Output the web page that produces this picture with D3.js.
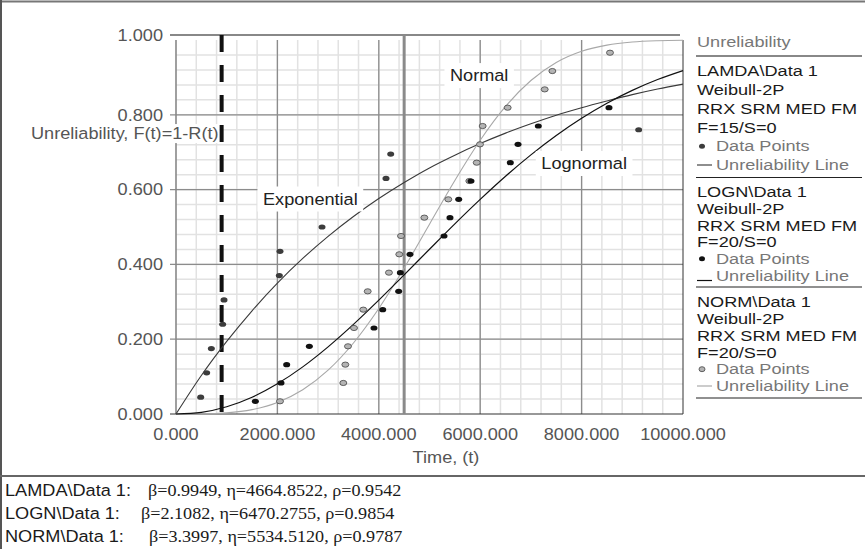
<!DOCTYPE html>
<html>
<head>
<meta charset="utf-8">
<script src="https://cdn.jsdelivr.net/npm/d3@7"></script>
<style>
  body { margin: 0; background: #fff; }
  text { font-family: "Liberation Sans", Arial, sans-serif; }
</style>
</head>
<body>
<script>
// Unreliability vs time, three Weibull-2P fits
const seriesNames = ["LAMDA\\Data 1", "LOGN\\Data 1", "NORM\\Data 1"];
const failCounts = ["F=15/S=0", "F=20/S=0", "F=20/S=0"];
const betas = [0.9949, 2.1082, 3.3997];
const etas = [4664.8522, 6470.2755, 5534.5120];
const rhos = [0.9542, 0.9854, 0.9787];

// fitted unreliability lines
const lineTimes = [0, 500, 1000, 1500, 2000, 2500, 3000, 3500, 4000, 4500, 5000,
  5500, 6000, 6500, 7000, 7500, 8000, 8500, 9000, 9500, 10000];
const lamdaLine = [0, 0.103, 0.194, 0.276, 0.350, 0.416, 0.475, 0.528, 0.576, 0.619, 0.658,
  0.692, 0.723, 0.751, 0.776, 0.799, 0.819, 0.837, 0.854, 0.869, 0.882];
const lognLine = [0, 0.0045, 0.0193, 0.0448, 0.0807, 0.1260, 0.1795, 0.2395, 0.3043, 0.3719, 0.4405,
  0.5084, 0.5738, 0.6357, 0.6929, 0.7447, 0.7908, 0.8310, 0.8654, 0.8943, 0.9182];
const normLine = [0, 0.0003, 0.0030, 0.0117, 0.0309, 0.0649, 0.1172, 0.1899, 0.2822, 0.3903, 0.5074,
  0.6243, 0.7318, 0.8223, 0.8917, 0.9398, 0.9698, 0.9864, 0.9946, 0.9981, 0.9994];

// data points (time, unreliability)
const lamdaTimes = [487, 605, 697, 920, 947, 2038, 2051, 2880, 3485, 4142, 4235, 9126];
const lamdaF = [0.045, 0.110, 0.175, 0.240, 0.305, 0.370, 0.435, 0.500, 0.565, 0.630, 0.695, 0.760];
const lognTimes = [1565, 2071, 2183, 2630, 3905, 4077, 4392, 4425, 4615, 5286, 5404, 5576, 5818,
  6594, 6746, 7146, 8540];
const lognF = [0.034, 0.083, 0.132, 0.181, 0.230, 0.279, 0.328, 0.378, 0.427, 0.476, 0.525, 0.574,
  0.623, 0.672, 0.721, 0.770, 0.819];
const normTimes = [2051, 3300, 3340, 3392, 3511, 3694, 3781, 4200, 4404, 4438, 4898, 5371, 5785,
  5931, 5996, 6049, 6542, 7272, 7423, 8560];
const normF = [0.034, 0.083, 0.132, 0.181, 0.230, 0.279, 0.328, 0.378, 0.427, 0.476, 0.525, 0.574,
  0.623, 0.672, 0.721, 0.770, 0.819, 0.868, 0.917, 0.966];

const xTicks = [0, 2000, 4000, 6000, 8000, 10000];
const yTicks = [0, 0.2, 0.4, 0.6, 0.8, 1.0];
const markerLines = [900, 4500];
const curveLabels = ["Exponential", "Normal", "Lognormal"];
const curveLabelPos = [[2650, 0.575], [5980, 0.905], [8050, 0.670]];

const width = 865, height = 549;
const svg = d3.select("body").append("svg").attr("width", width).attr("height", height);

const x = d3.scaleLinear([0, 10000], [176, 683]);
const y = d3.scaleLinear([0, 1], [414, 40]);

// plain text, a little stretched sideways like the source
function label(parent, px, py, str, opt = {}) {
  const sx = opt.sx || 1.1;
  const g = parent.append("g").attr("transform", `translate(${px},${py}) scale(${sx},1)`);
  const t = g.append("text")
    .attr("dy", "0.35em")
    .attr("text-anchor", opt.anchor || "start")
    .style("font-size", (opt.size || 16.5) + "px")
    .style("fill", opt.fill || "#222")
    .text(str);
  if (opt.family) t.style("font-family", opt.family);
  if (opt.bg) {
    const b = t.node().getBBox();
    g.insert("rect", "text")
      .attr("x", b.x - opt.bg[0]).attr("y", b.y - opt.bg[1])
      .attr("width", b.width + 2 * opt.bg[0]).attr("height", b.height + 2 * opt.bg[1])
      .attr("fill", "#fff");
  }
  return g;
}

// outer frame
svg.append("line").attr("x1", 0).attr("x2", width).attr("y1", 1.5).attr("y2", 1.5)
  .attr("stroke", "#777").attr("stroke-width", 2);
svg.append("line").attr("x1", 1).attr("x2", 1).attr("y1", 0).attr("y2", height)
  .attr("stroke", "#555").attr("stroke-width", 2);

// grid
const grid = svg.append("g");
grid.selectAll(".vmin").data(d3.range(400, 10000, 400)).enter().append("line")
  .attr("x1", d => x(d)).attr("x2", d => x(d)).attr("y1", y(1)).attr("y2", y(0))
  .attr("stroke", "#e2e2e2").attr("stroke-width", 1.5);
grid.selectAll(".hmin").data(d3.range(0.04, 1, 0.04)).enter().append("line")
  .attr("x1", x(0)).attr("x2", x(10000)).attr("y1", d => y(d)).attr("y2", d => y(d))
  .attr("stroke", "#e2e2e2").attr("stroke-width", 1.5);
grid.selectAll(".vmaj").data(xTicks.slice(1, -1)).enter().append("line")
  .attr("x1", d => x(d)).attr("x2", d => x(d)).attr("y1", y(1)).attr("y2", y(0))
  .attr("stroke", "#8c8c8c").attr("stroke-width", 1.3);
grid.selectAll(".hmaj").data(yTicks.slice(1, -1)).enter().append("line")
  .attr("x1", x(0) - 6).attr("x2", x(10000)).attr("y1", d => y(d)).attr("y2", d => y(d))
  .attr("stroke", "#8c8c8c").attr("stroke-width", 1.3);

// frame of plot
svg.append("line").attr("x1", x(0) - 6).attr("x2", x(10000) - 3).attr("y1", y(1) - 5).attr("y2", y(1) - 5)
  .attr("stroke", "#888").attr("stroke-width", 2.2);
svg.append("line").attr("x1", x(0)).attr("x2", x(0)).attr("y1", y(1)).attr("y2", y(0))
  .attr("stroke", "#888").attr("stroke-width", 1.6);
svg.append("line").attr("x1", x(10000)).attr("x2", x(10000)).attr("y1", y(1)).attr("y2", y(0))
  .attr("stroke", "#333").attr("stroke-width", 1);
svg.append("line").attr("x1", x(0) - 6).attr("x2", x(10000)).attr("y1", y(0)).attr("y2", y(0))
  .attr("stroke", "#333").attr("stroke-width", 1.2);

// axes labels
yTicks.forEach(v => {
  label(svg, 163, v === 1 ? y(v) - 5 : y(v), d3.format(".3f")(v), { anchor: "end", fill: "#555" });
});
xTicks.forEach(v => {
  label(svg, x(v), 434, d3.format(".3f")(v), { anchor: "middle", fill: "#555" });
});
label(svg, 446, 457, "Time, (t)", { anchor: "middle", fill: "#555" });
label(svg, 31, 133.5, "Unreliability, F(t)=1-R(t)", { fill: "#555", bg: [1, 0] });

// marker lines
svg.append("line").attr("x1", x(markerLines[1])).attr("x2", x(markerLines[1]))
  .attr("y1", y(1) - 5).attr("y2", y(0))
  .attr("stroke", "#8a8a8a").attr("stroke-width", 3);
svg.append("line").attr("x1", x(markerLines[0])).attr("x2", x(markerLines[0]))
  .attr("y1", y(1) - 5).attr("y2", y(0))
  .attr("stroke", "#111").attr("stroke-width", 4).attr("stroke-dasharray", "17,13");

// fitted lines
const line = d3.line().x((d, i) => x(lineTimes[i])).y(d => y(d)).curve(d3.curveMonotoneX);
const lineStyles = [
  { data: lamdaLine, color: "#3a3a3a", w: 1.1 },
  { data: normLine, color: "#a8a8a8", w: 1.1 },
  { data: lognLine, color: "#111", w: 1.2 }
];
lineStyles.forEach(s => {
  svg.append("path").datum(s.data).attr("d", line)
    .attr("fill", "none").attr("stroke", s.color).attr("stroke-width", s.w);
});

// data points
const pointSets = [
  { t: lamdaTimes, f: lamdaF, fill: "#3c3c3c", stroke: "none" },
  { t: normTimes, f: normF, fill: "#b4b4b4", stroke: "#444" },
  { t: lognTimes, f: lognF, fill: "#111", stroke: "none" }
];
pointSets.forEach(p => {
  svg.append("g").selectAll("ellipse").data(p.f).enter().append("ellipse")
    .attr("cx", (d, i) => x(p.t[i])).attr("cy", d => y(d))
    .attr("rx", 3.5).attr("ry", 2.6)
    .attr("fill", p.fill).attr("stroke", p.stroke).attr("stroke-width", 0.8);
});

// curve labels
curveLabels.forEach((s, i) => {
  label(svg, x(curveLabelPos[i][0]), y(curveLabelPos[i][1]), s,
    { anchor: "middle", fill: "#222", bg: [5, 3] });
});

// legend
const lg = svg.append("g");
const lgFont = { size: 15, sx: 1.21 };
label(lg, 697, 42, "Unreliability", { ...lgFont, fill: "#777" });
lg.append("line").attr("x1", 696).attr("x2", 862).attr("y1", 56).attr("y2", 56)
  .attr("stroke", "#888").attr("stroke-width", 2);
const blockTop = [71, 192, 302];
const blockStep = [18.8, 16.7, 16.8];
const sepY = [177.5, 287, 398];
const dotFill = ["#3c3c3c", "#111", "#b4b4b4"];
const dotStroke = ["none", "none", "#444"];
const dashColor = ["#444", "#111", "#aaa"];
seriesNames.forEach((nm, k) => {
  const rows = [nm, "Weibull-2P", "RRX SRM MED FM", failCounts[k]];
  rows.forEach((r, i) => label(lg, 697, blockTop[k] + i * blockStep[k], r, { ...lgFont, fill: "#1a1a1a" }));
  const yDot = blockTop[k] + 4 * blockStep[k];
  const yLine = blockTop[k] + 5 * blockStep[k];
  lg.append("ellipse").attr("cx", 702).attr("cy", yDot).attr("rx", 3).attr("ry", 2.5)
    .attr("fill", dotFill[k]).attr("stroke", dotStroke[k]).attr("stroke-width", 0.8);
  label(lg, 716, yDot, "Data Points", { ...lgFont, fill: "#777" });
  const ly = k === 1 ? yLine + 5 : yLine;
  lg.append("line").attr("x1", 697).attr("x2", 712).attr("y1", ly).attr("y2", ly)
    .attr("stroke", dashColor[k]).attr("stroke-width", 1.2);
  label(lg, 716, yLine, "Unreliability Line", { ...lgFont, fill: "#777" });
  lg.append("line").attr("x1", 696).attr("x2", 862).attr("y1", sepY[k]).attr("y2", sepY[k])
    .attr("stroke", "#222").attr("stroke-width", 1.2);
});

// parameter table at the bottom
svg.append("line").attr("x1", 0).attr("x2", width).attr("y1", 476).attr("y2", 476)
  .attr("stroke", "#666").attr("stroke-width", 2);
const rowY = [490, 513, 536];
const paramX = [148, 141, 149];
seriesNames.forEach((nm, k) => {
  label(svg, 5, rowY[k], nm + ":", { fill: "#1a1a1a" });
  const s = `β=${betas[k].toFixed(4)}, η=${etas[k].toFixed(4)}, ρ=${rhos[k].toFixed(4)}`;
  label(svg, paramX[k], rowY[k], s,
    { fill: "#1a1a1a", family: "'Liberation Serif', 'Times New Roman', serif" });
});
</script>
</body>
</html>
